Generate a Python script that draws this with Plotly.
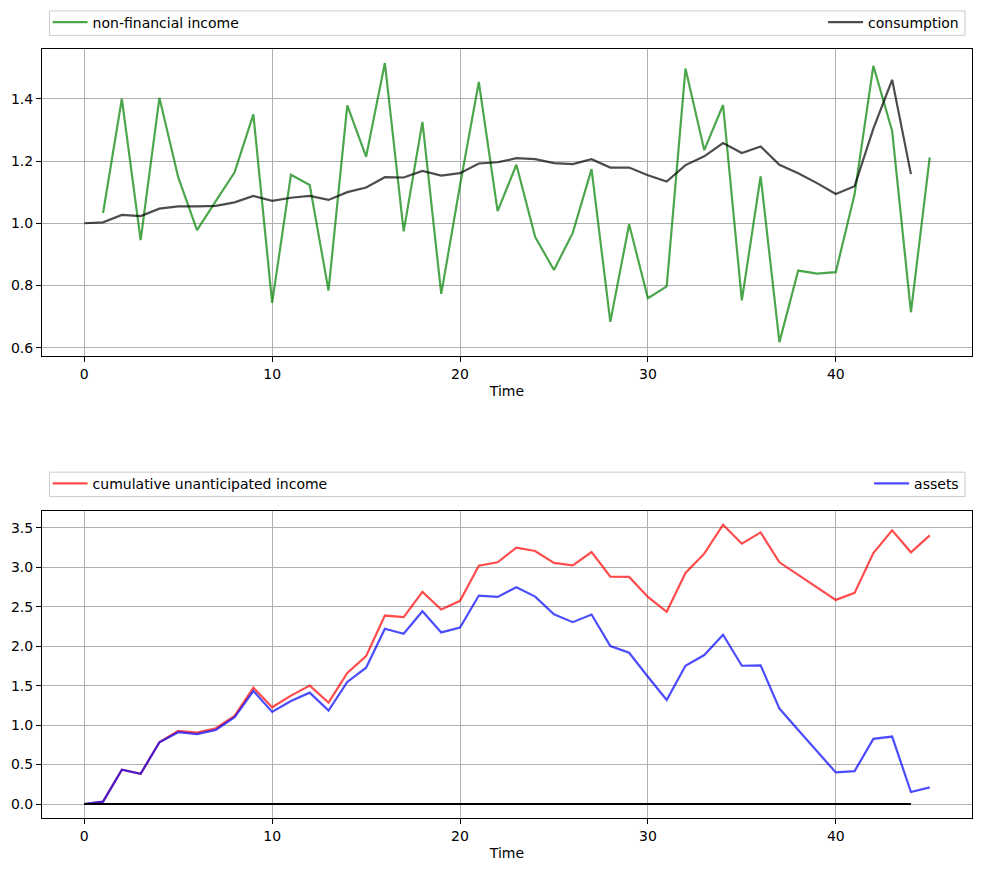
import plotly.graph_objects as go
from plotly.subplots import make_subplots

t_income = list(range(1, 46))
income = [1.033, 1.40, 0.946, 1.403, 1.148, 0.978, 1.071, 1.164, 1.350, 0.744,
          1.156, 1.123, 0.784, 1.379, 1.214, 1.515, 0.974, 1.326, 0.773, 1.122,
          1.454, 1.039, 1.188, 0.956, 0.850, 0.969, 1.174, 0.683, 0.997, 0.759,
          0.797, 1.497, 1.235, 1.380, 0.752, 1.151, 0.618, 0.848, 0.838, 0.843,
          1.093, 1.506, 1.297, 0.714, 1.212]

t_cons = list(range(0, 45))
consumption = [1.000, 1.003, 1.027, 1.023, 1.047, 1.054, 1.054, 1.056, 1.067, 1.088,
               1.072, 1.082, 1.088, 1.075, 1.100, 1.115, 1.148, 1.147, 1.168, 1.153,
               1.161, 1.192, 1.196, 1.209, 1.206, 1.193, 1.190, 1.206, 1.179, 1.179,
               1.154, 1.134, 1.187, 1.215, 1.258, 1.226, 1.247, 1.188, 1.161, 1.129,
               1.094, 1.119, 1.304, 1.461, 1.158]

t_bottom = list(range(0, 46))
cum_unanticipated = [0.0, 0.03, 0.434, 0.383, 0.783, 0.927, 0.906, 0.960, 1.116, 1.474,
                     1.226, 1.373, 1.500, 1.285, 1.660, 1.874, 2.388, 2.367, 2.687, 2.464,
                     2.574, 3.020, 3.062, 3.248, 3.206, 3.054, 3.024, 3.193, 2.881, 2.877,
                     2.624, 2.435, 2.928, 3.172, 3.538, 3.298, 3.441, 3.062, 2.902, 2.742,
                     2.586, 2.675, 3.180, 3.467, 3.189, 3.404]
assets = [0.0, 0.03, 0.434, 0.383, 0.783, 0.910, 0.885, 0.939, 1.099, 1.432,
          1.167, 1.306, 1.411, 1.184, 1.546, 1.727, 2.220, 2.157, 2.443, 2.174,
          2.237, 2.641, 2.624, 2.746, 2.628, 2.405, 2.304, 2.401, 2.001, 1.917,
          1.613, 1.318, 1.752, 1.887, 2.144, 1.752, 1.757, 1.209, 0.939, 0.670,
          0.400, 0.417, 0.826, 0.855, 0.152, 0.211]
t_zero = list(range(0, 45))
zero_line = [0.0] * 45

fig = make_subplots(rows=2, cols=1, vertical_spacing=0.2)

fig.add_trace(go.Scatter(x=t_income, y=income, mode="lines", name="non-financial income",
                         line=dict(color="rgba(0,128,0,0.7)", width=2.2), legend="legend"), row=1, col=1)
fig.add_trace(go.Scatter(x=t_cons, y=consumption, mode="lines", name="consumption",
                         line=dict(color="rgba(0,0,0,0.7)", width=2.2), legend="legend2"), row=1, col=1)
fig.add_trace(go.Scatter(x=t_bottom, y=cum_unanticipated, mode="lines", name="cumulative unanticipated income",
                         line=dict(color="rgba(255,0,0,0.7)", width=2.2), legend="legend3"), row=2, col=1)
fig.add_trace(go.Scatter(x=t_bottom, y=assets, mode="lines", name="assets",
                         line=dict(color="rgba(0,0,255,0.7)", width=2.2), legend="legend4"), row=2, col=1)
fig.add_trace(go.Scatter(x=t_zero, y=zero_line, mode="lines", name="zero", showlegend=False,
                         line=dict(color="black", width=2)), row=2, col=1)

axis_style = dict(showline=True, mirror=True, linecolor="black", linewidth=1,
                  ticks="outside", ticklen=5, tickcolor="black",
                  showgrid=True, gridcolor="#b0b0b0", gridwidth=1, zeroline=False,
                  tickfont=dict(size=14, color="black"))

fig.update_xaxes(**axis_style, range=[-2.25, 47.25], tickvals=[0, 10, 20, 30, 40],
                 title=dict(text="Time", font=dict(size=14, color="black"), standoff=5))
fig.update_yaxes(**axis_style)
fig.update_yaxes(range=[0.573, 1.560], tickvals=[0.6, 0.8, 1.0, 1.2, 1.4], tickformat=".1f", row=1, col=1)
fig.update_yaxes(range=[-0.177, 3.715], tickvals=[0, 0.5, 1, 1.5, 2, 2.5, 3, 3.5], tickformat=".1f", row=2, col=1)

fig.update_layout(xaxis=dict(domain=[0, 1]), yaxis=dict(domain=[0.6006, 1.0]),
                  xaxis2=dict(domain=[0, 1]), yaxis2=dict(domain=[0.0, 0.3995]))

leg_common = dict(bgcolor="rgba(0,0,0,0)", borderwidth=0, font=dict(size=14, color="black"),
                  yanchor="middle", orientation="h", itemwidth=35)
fig.update_layout(
    legend=dict(**leg_common, x=0.006, xanchor="left", y=1.0345),
    legend2=dict(**leg_common, x=0.9915, xanchor="right", y=1.0345),
    legend3=dict(**leg_common, x=0.006, xanchor="left", y=0.4345),
    legend4=dict(**leg_common, x=0.9915, xanchor="right", y=0.4345),
)

for (y0, y1) in [(1.0177, 1.0495), (0.4180, 0.4497)]:
    fig.add_shape(type="rect", xref="paper", yref="paper", x0=0.0080, x1=0.9925, y0=y0, y1=y1,
                  line=dict(color="#cccccc", width=1), fillcolor="rgba(255,255,255,0.8)", layer="below")

fig.update_layout(width=981, height=872,
                  margin=dict(l=42, r=9, t=48.5, b=53.7, autoexpand=False),
                  plot_bgcolor="white", paper_bgcolor="white",
                  font=dict(family="DejaVu Sans", size=14, color="black"))

fig.write_html("out.html")
